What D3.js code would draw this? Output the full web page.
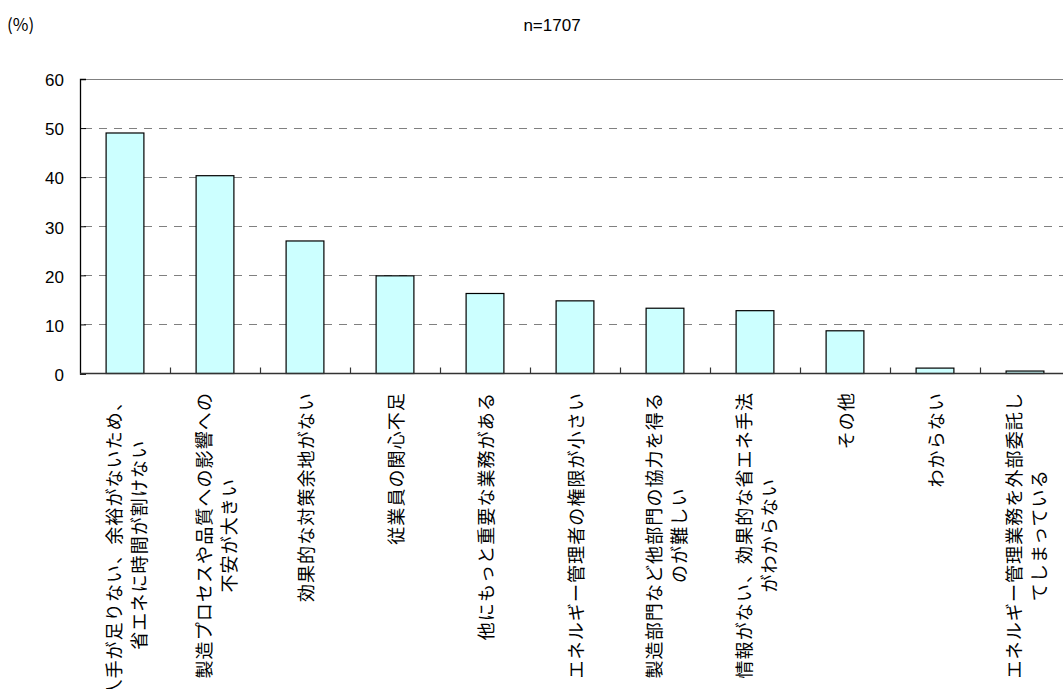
<!DOCTYPE html>
<html><head><meta charset="utf-8">
<script src="https://cdn.jsdelivr.net/npm/d3@7"></script>
<style>
body{margin:0;background:#fff;}
svg{display:block;}
</style></head>
<body><svg id="chart" width="1063" height="689"></svg>
<script>
const categories = [
  ["人手が足りない、余裕がないため、", "省エネに時間が割けない"],
  ["製造プロセスや品質への影響への", "不安が大きい"],
  ["効果的な対策余地がない"],
  ["従業員の関心不足"],
  ["他にもっと重要な業務がある"],
  ["エネルギー管理者の権限が小さい"],
  ["製造部門など他部門の協力を得る", "のが難しい"],
  ["情報がない、効果的な省エネ手法", "がわからない"],
  ["その他"],
  ["わからない"],
  ["エネルギー管理業務を外部委託し", "てしまっている"]
];
const values = [49.0, 40.3, 27.0, 19.9, 16.3, 14.8, 13.3, 12.8, 8.7, 1.1, 0.5];
const yTicks = [0, 10, 20, 30, 40, 50, 60];
const unitLabel = "(%)";
const sampleLabel = "n=1707";

(function () {
const svg = d3.select("#chart");
const pLeft = 80, pRight = 1070, pTop = 79, pBottom = 373.5;
const keys = categories.map((c, i) => i);
const x = d3.scaleBand().domain(keys).range([pLeft, pRight]).paddingInner(0.58).paddingOuter(0.29);
const xb = d3.scaleLinear().domain([0, categories.length]).range([pLeft, pRight]);
const y = d3.scaleLinear().domain([0, 60]).range([pBottom, pTop]);

const numFont = "'Liberation Sans', Arial, sans-serif";
const jpFont = "'Noto Sans CJK JP', sans-serif";

// titles
svg.append("text").attr("x", 7).attr("y", 31).attr("font-family", jpFont).attr("font-size", 17).attr("fill", "#000").text(unitLabel);
svg.append("text").attr("x", 552).attr("y", 31).attr("text-anchor", "middle").attr("font-family", numFont).attr("font-size", 17).attr("fill", "#000").text(sampleLabel);

// gridlines
svg.append("g").selectAll("line").data(yTicks.filter(d => d > 0 && d < 60)).join("line")
  .attr("x1", pLeft).attr("x2", pRight).attr("y1", d => Math.round(y(d)) + 0.5).attr("y2", d => Math.round(y(d)) + 0.5)
  .attr("stroke", "#808080").attr("stroke-width", 1).attr("stroke-dasharray", "8,7").attr("stroke-dashoffset", -4);

// top border
svg.append("line").attr("x1", pLeft).attr("x2", pRight).attr("y1", pTop + 0.5).attr("y2", pTop + 0.5)
  .attr("stroke", "#808080").attr("stroke-width", 1);

// bars
svg.append("g").selectAll("rect").data(values).join("rect")
  .attr("x", (d, i) => x(i)).attr("width", x.bandwidth())
  .attr("y", d => y(d)).attr("height", d => y(0) - y(d))
  .attr("fill", "#CCFFFF").attr("stroke", "#000").attr("stroke-width", 1.2);

// y axis
const yAxis = d3.axisLeft(y).tickValues(yTicks).tickSize(-6).tickPadding(16).tickFormat(d3.format("d"));
const gy = svg.append("g").attr("transform", `translate(${pLeft},0)`).call(yAxis);
gy.select(".domain").attr("stroke", "#000").attr("stroke-width", 1.3);
gy.selectAll(".tick line").attr("stroke", "#000");
gy.selectAll(".tick text").attr("font-family", numFont).attr("font-size", 17).attr("fill", "#000").attr("dy", "0.4em");

// x axis baseline and boundary ticks
const boundaries = d3.range(1, categories.length + 1);
svg.append("g").selectAll("line").data(boundaries).join("line")
  .attr("x1", d => Math.round(xb(d)) + 0.5).attr("x2", d => Math.round(xb(d)) + 0.5)
  .attr("y1", y(0)).attr("y2", y(0) - 6).attr("stroke", "#333").attr("stroke-width", 1.2);
svg.append("line").attr("x1", pLeft).attr("x2", pRight).attr("y1", y(0)).attr("y2", y(0))
  .attr("stroke", "#333").attr("stroke-width", 1.6);

// category labels, rotated
const labelTop = 392, lineGap = 25;
const lg = svg.append("g");
categories.forEach((lines, i) => {
  const cx = x(i) + x.bandwidth() / 2;
  const g = lg.append("g").attr("transform", `translate(${cx},0) rotate(-90)`);
  const texts = lines.map((t, j) => g.append("text")
    .attr("font-family", jpFont).attr("font-size", 18).attr("letter-spacing", 1.1)
    .attr("fill", "#000").attr("dominant-baseline", "central")
    .attr("text-anchor", "middle")
    .attr("y", (j - (lines.length - 1) / 2) * lineGap)
    .text(t));
  const maxLen = d3.max(texts, t => t.node().getComputedTextLength());
  texts.forEach(t => t.attr("x", -(labelTop + maxLen / 2)));
});
})();
</script></body></html>
